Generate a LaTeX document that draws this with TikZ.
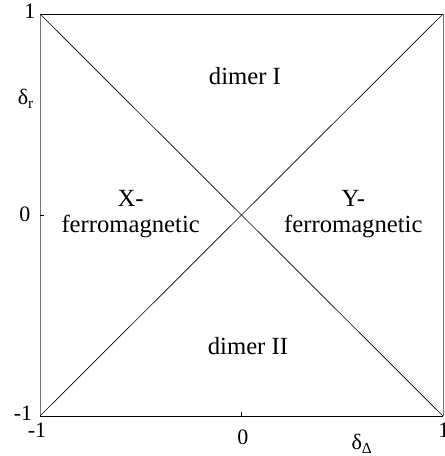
\documentclass[tikz,border=0pt]{standalone}
\usepackage{fontspec}
\setmainfont{Liberation Serif}

\begin{document}
\begin{tikzpicture}[x=151.125pt, y=150.75pt,
    axlabel/.style={font=\fontsize{16.5}{18}\selectfont, inner sep=0pt},
    phase/.style={font=\fontsize{18.5}{19}\selectfont, align=center, inner sep=0pt}]
      \useasboundingbox (-1.1985,-1.199) rectangle (1.0099,1.0697);
      \coordinate (sw) at (-1,-1);
      \coordinate (se) at (1,-1);
      \coordinate (nw) at (-1,1);
      \coordinate (ne) at (1,1);
      \coordinate (l0) at (-1,0);
      \coordinate (b0) at (0,-1);
      % frame
      \draw[line width=0.6pt] (sw) -- (se);
      \draw[line width=0.6pt] (nw) -- (ne);
      \draw[black!55, line width=0.6pt] (sw) -- (nw);
      \draw[black!55, line width=0.6pt] (se) -- (ne);
      % phase boundaries
      \draw[line width=0.5pt] (sw) -- (ne);
      \draw[line width=0.5pt] (nw) -- (se);
      % ticks
      \draw[line width=0.5pt] (l0) -- ++(0.022,0);
      \draw[line width=0.5pt] (b0) -- ++(0,0.02);
      % axis labels
      \node[axlabel] (ytop) at (-1.05,1.015) {1};
      \node[axlabel] (yname) at (-1.07,0.577) {δ\textsubscript{r}};
      \node[axlabel] (ymid) at (-1.075,0.005) {0};
      \node[axlabel] (ybot) at (-1.084,-0.985) {-1};
      \node[axlabel] (xleft) at (-1.015,-1.07) {-1};
      \node[axlabel] (xmid) at (0.007,-1.105) {0};
      \node[axlabel] (xname) at (0.598,-1.139) {δ\textsubscript{Δ}};
      \node[axlabel] (xright) at (1.005,-1.07) {1};
      % phases
      \node[phase] (dimI) at (0.017,0.692) {dimer I};
      \node[phase] (dimII) at (0.032,-0.652) {dimer II};
      \node[phase] (xferro) at (-0.55,0.005) {X-\\ferromagnetic};
      \node[phase] (yferro) at (0.555,0.005) {Y-\\ferromagnetic};
\end{tikzpicture}
\end{document}
